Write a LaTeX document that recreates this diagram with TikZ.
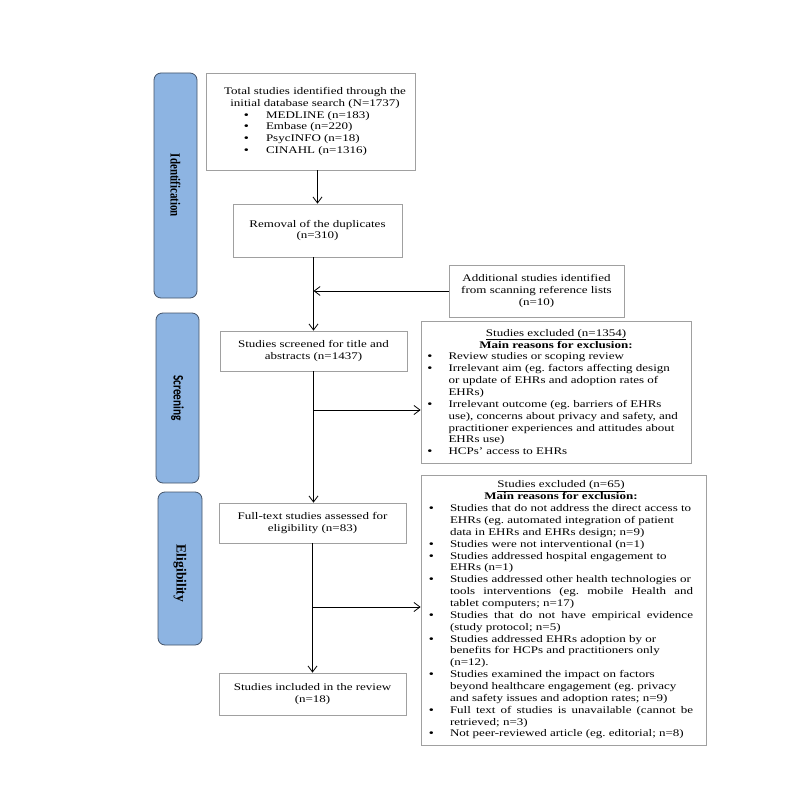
\documentclass[tikz,border=0pt]{standalone}
\usepackage{fontspec}
\setmainfont{Liberation Serif}
\newfontfamily\calibrifont{Carlito}
\usepackage{graphicx}
\usetikzlibrary{arrows.meta}
\definecolor{sidefill}{HTML}{8DB4E2}
\definecolor{sidedraw}{HTML}{44546A}
\definecolor{boxdraw}{HTML}{A0A0A0}
\newcommand\sqz[1]{\scalebox{1}[0.78]{#1}}
\newcommand\bodyfont{\fontsize{13bp}{15.2bp}\selectfont\frenchspacing}
\newcommand\bigbul{\textbf{\textbullet}}
\newcommand\bitem{\par\hangindent=21bp\hangafter=1\noindent\makebox[21bp][l]{\bigbul}}
\newcommand\lbul{\hspace*{29bp}\makebox[22bp][l]{\bigbul}}
\begin{document}
\begin{tikzpicture}[x=1bp,y=-1bp,
  mainbox/.style={draw=boxdraw, line width=0.8bp, inner sep=0pt, fill=white, font=\bodyfont},
  sidebox/.style={draw=sidedraw, fill=sidefill, line width=0.8bp, rounded corners=7bp, inner sep=0pt},
  arr/.style={draw=black, line width=0.8bp, -{Straight Barb[length=6bp,width=9bp]}}]
\fill[white] (0,0) rectangle (800,800);
\useasboundingbox (0,0) rectangle (800,800);

% phase labels
\node[sidebox, minimum width=43bp, minimum height=225bp] (ident) at (175.5,185.5)
  {\rotatebox{-90}{\scalebox{0.78}[1]{\fontsize{14bp}{16bp}\selectfont\bfseries Identification}}};
\node[sidebox, minimum width=43bp, minimum height=170bp] (screen) at (177.5,398)
  {\rotatebox{-90}{\scalebox{0.78}[1]{\fontsize{14.5bp}{16bp}\selectfont\calibrifont\bfseries Screening}}};
\node[sidebox, minimum width=44bp, minimum height=153bp] (elig) at (180,568.5)
  {\rotatebox{-90}{\hspace*{10bp}\scalebox{0.965}[1]{\fontsize{14bp}{16bp}\selectfont\bfseries Eligibility}}};

% main boxes
\node[mainbox, minimum width=205bp, minimum height=97bp] (total) at (310.5,121.5)
  {\sqz{\hspace*{9bp}\parbox{200bp}{\centering Total studies identified through the\\ initial database search (N=1737)\par
   \raggedright
   \lbul MEDLINE (n=183)\\
   \lbul Embase (n=220)\\
   \lbul PsycINFO (n=18)\\
   \lbul CINAHL (n=1316)}}};

\node[mainbox, minimum width=169bp, minimum height=53bp] (removal) at (317.5,230.5)
  {\raisebox{4bp}{\sqz{\parbox{160bp}{\centering Removal of the duplicates\\(n=310)}}}};

\node[mainbox, minimum width=175bp, minimum height=52bp] (add) at (536.5,291)
  {\sqz{\parbox{170bp}{\centering Additional studies identified\\ from scanning reference lists\\ (n=10)}}};

\node[mainbox, minimum width=187bp, minimum height=40bp] (screened) at (313.5,351)
  {\sqz{\parbox{180bp}{\centering Studies screened for title and\\ abstracts (n=1437)}}};

\node[mainbox, minimum width=187bp, minimum height=40bp] (fulltext) at (312.5,523)
  {\sqz{\parbox{180bp}{\centering Full-text studies assessed for\\ eligibility (n=83)}}};

\node[mainbox, minimum width=187bp, minimum height=42bp] (included) at (312.5,694)
  {\sqz{\parbox{180bp}{\centering Studies included in the review\\ (n=18)}}};

% exclusion boxes
\node[mainbox, minimum width=270bp, minimum height=142bp] (excl1) at (556,392)
  {\sqz{\parbox{257bp}{\tolerance=10000\hyphenpenalty=10000
   {\centering \underline{Studies excluded (n=1354)}\\ \textbf{Main reasons for exclusion:}\par}
   \bitem Review studies or scoping review
   \bitem Irrelevant aim (eg. factors affecting design\\ or update of EHRs and adoption rates of\\ EHRs)
   \bitem Irrelevant outcome (eg. barriers of EHRs\\ use), concerns about privacy and safety, and\\ practitioner experiences and attitudes about\\ EHRs use)
   \bitem HCPs’ access to EHRs}}};

\node[mainbox, minimum width=285bp, minimum height=270bp] (excl2) at (563.5,610)
  {\sqz{\parbox{264bp}{\tolerance=10000\hyphenpenalty=10000
   {\centering \underline{Studies excluded (n=65)}\\ \textbf{Main reasons for exclusion:}\par}
   \bitem Studies that do not address the direct access to\\ EHRs (eg. automated integration of patient\\ data in EHRs and EHRs design; n=9)
   \bitem Studies were not interventional (n=1)
   \bitem Studies addressed hospital engagement to\\ EHRs (n=1)
   \bitem Studies addressed other health technologies or\\ tools interventions (eg. mobile Health and\linebreak tablet computers; n=17)
   \bitem Studies that do not have empirical evidence\linebreak (study protocol; n=5)
   \bitem Studies addressed EHRs adoption by or\\ benefits for HCPs and practitioners only\\ (n=12).
   \bitem Studies examined the impact on factors\\ beyond healthcare engagement (eg. privacy\\ and safety issues and adoption rates; n=9)
   \bitem Full text of studies is unavailable (cannot be\linebreak retrieved; n=3)
   \bitem Not peer-reviewed article (eg. editorial; n=8)}\hspace*{5bp}}};

% junction points
\coordinate (j1) at (screened.north |- 0,291);
\coordinate (b1) at (screened.south |- 0,410);
\coordinate (b2) at (fulltext.south |- 0,607);

% connectors
\draw[arr] (total.south -| removal.north) -- (removal.north);
\draw[arr] (removal.south -| screened.north) -- (screened.north);
\draw[arr] (add.west) -- (j1);
\draw[arr] (screened.south) -- (screened.south |- fulltext.north);
\draw[arr] (b1) -- (b1 -| excl1.west);
\draw[arr] (fulltext.south) -- (included.north);
\draw[arr] (b2) -- (b2 -| excl2.west);
\end{tikzpicture}
\end{document}
